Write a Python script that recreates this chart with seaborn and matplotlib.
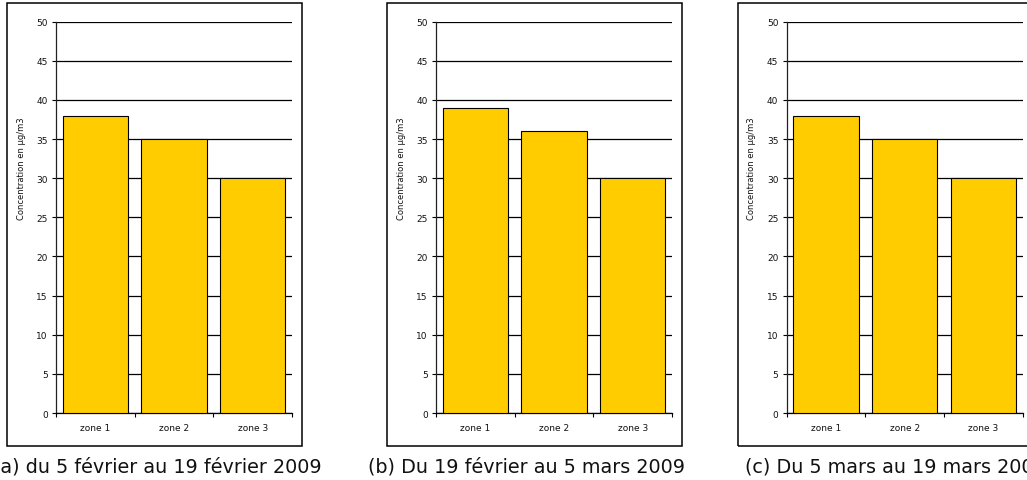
import pandas as pd
import seaborn as sns
import matplotlib.pyplot as plt
from matplotlib.patches import Rectangle

# Concentrations moyennes par zone et par période de mesure
zones = ["zone 1", "zone 2", "zone 3"]
periode_a = [38, 35, 30]
periode_b = [39, 36, 30]
periode_c = [38, 35, 30]
legendes = [
    "(a) du 5 février au 19 février 2009",
    "(b) Du 19 février au 5 mars 2009",
    "(c) Du 5 mars au 19 mars 2009",
]
graduations = list(range(0, 51, 5))
titre_y = "Concentration en µg/m3"

W, H = 1027, 481
sns.set_theme(style="white")
plt.rcParams["font.family"] = ["DejaVu Sans"]

fig = plt.figure(figsize=(W / 100, H / 100), dpi=100)


def fx(px):
    return px / W


def fy(py):
    return 1 - py / H


# emplacement des graphiques (en pixels)
gauches = [56, 436, 786.7]
larg = 236
haut_ax, bas_ax = 22.7, 414
cadre_haut, cadre_bas = 4, 447
# ancrage des légendes sous chaque graphique
ancres = [(322, "right"), (527, "center"), (745, "left")]

for gauche, valeurs, legende, (xa, ha) in zip(
        gauches, [periode_a, periode_b, periode_c], legendes, ancres):
    ax = fig.add_axes([fx(gauche), fy(bas_ax), larg / W, (bas_ax - haut_ax) / H])
    df = pd.DataFrame({"zone": zones, "conc": valeurs})
    sns.barplot(data=df, x="zone", y="conc", ax=ax, color="#FFCC00",
                saturation=1, width=0.83, edgecolor="black", linewidth=0.8,
                zorder=3)
    ax.set_ylim(0, 50)
    ax.set_xlim(-0.5, 2.5)
    ax.set_yticks(graduations)
    ax.set_yticklabels([str(v) for v in graduations], fontsize=6.5, color="#111111")
    ax.yaxis.grid(True, color="black", linewidth=0.9, zorder=0)
    ax.xaxis.grid(False)
    ax.set_axisbelow(True)

    # graduations de l'axe x entre les catégories, libellés au centre
    ax.set_xticks([-0.5, 0.5, 1.5, 2.5])
    ax.set_xticklabels([])
    ax.set_xticks([0, 1, 2], minor=True)
    ax.set_xticklabels(zones, minor=True, fontsize=6.5, color="#111111")
    ax.tick_params(axis="x", which="major", direction="out", length=3,
                   width=0.8, color="black", bottom=True)
    ax.tick_params(axis="x", which="minor", length=0, pad=7)
    ax.tick_params(axis="y", direction="out", length=3, width=0.8,
                   color="black", left=True, pad=3)

    ax.set_xlabel("")
    ax.set_ylabel("")
    ax.text(-35 / larg, 0.626, titre_y, transform=ax.transAxes, rotation=90,
            ha="center", va="center", fontsize=6, color="#111111")

    for cote in ["top", "right"]:
        ax.spines[cote].set_visible(False)
    ax.spines["left"].set_color("#222222")
    ax.spines["left"].set_linewidth(0.9)
    ax.spines["bottom"].set_color("black")
    ax.spines["bottom"].set_linewidth(0.9)

    # cadre autour du graphique
    fig.add_artist(Rectangle((fx(gauche - 49), fy(cadre_bas)),
                             (larg + 59) / W, (cadre_bas - cadre_haut) / H,
                             transform=fig.transFigure, fill=False,
                             edgecolor="black", linewidth=1.1))
    fig.text(fx(xa), fy(467.5), legende, ha=ha, va="center",
             fontsize=13.8, color="#111111")

fig.savefig("out.png", dpi=100)
